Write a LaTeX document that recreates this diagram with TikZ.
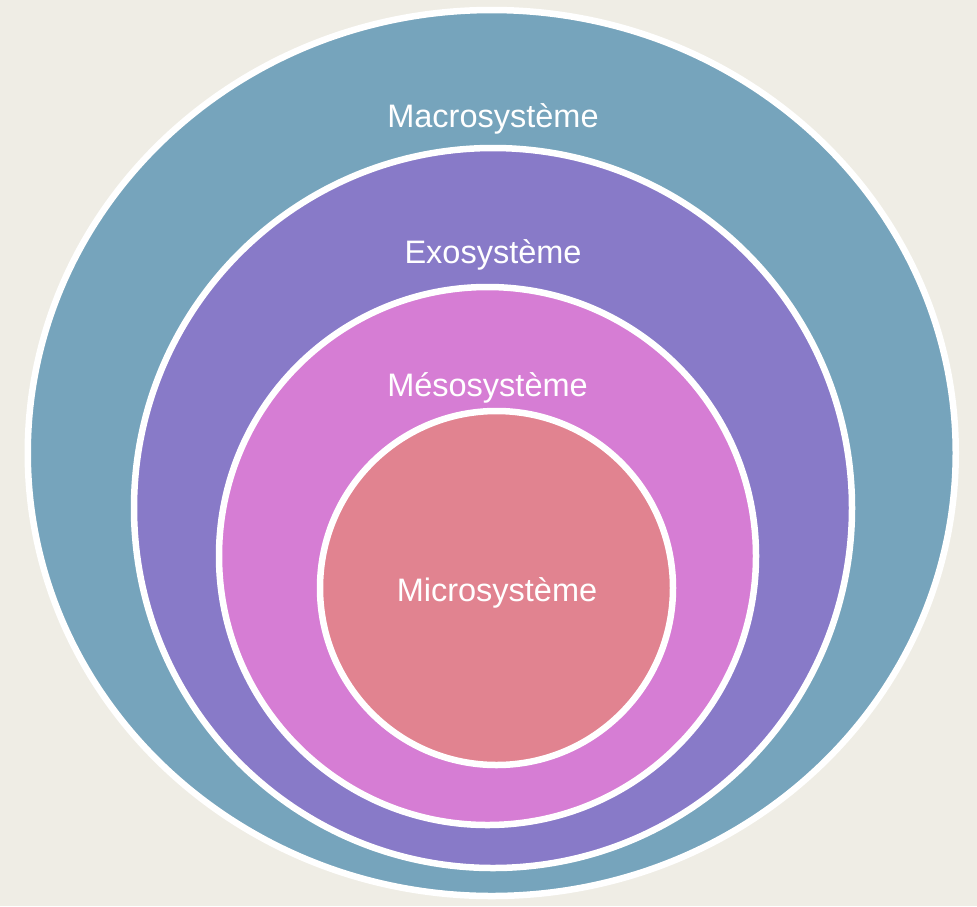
\documentclass[tikz,border=0pt]{standalone}
\usepackage{fontspec}
\setmainfont{Liberation Sans}
\definecolor{bgbeige}{HTML}{EFEDE5}
\definecolor{macrocol}{HTML}{76A4BC}
\definecolor{exocol}{HTML}{887AC8}
\definecolor{mesocol}{HTML}{D67DD4}
\definecolor{microcol}{HTML}{E18390}
\begin{document}
\begin{tikzpicture}[x=1pt,y=-1pt,ring/.style={draw=white,line width=6.5pt},
    label/.style={text=white,anchor=base,font=\fontsize{32.5}{38}\selectfont,inner sep=0pt}]
            \useasboundingbox (0,0) rectangle (977,906);
            \fill[bgbeige] (0,0) rectangle (977,906);
            \coordinate (Mac) at (491.75, 453);\coordinate (Exo) at (493, 508);\coordinate (Mes) at (487.5, 556);\coordinate (Mic) at (496.5, 588);

            \draw[ring, fill=macrocol] (Mac) ellipse [x radius=464, y radius=443];
            \draw[ring, fill=exocol] (Exo) ellipse [x radius=359, y radius=360];
            \draw[ring, fill=mesocol] (Mes) ellipse [x radius=268.5, y radius=269];
            \draw[ring, fill=microcol] (Mic) ellipse [x radius=176.5, y radius=177];

            \foreach \name/\txt/\px/\py in {macro/Macrosystème/493/127, exo/Exosystème/493/263, meso/Mésosystème/487.5/396, micro/Microsystème/497/601} {
                \node[label] (\name) at (\px, \py) {\txt};
            }
        \end{tikzpicture}
\end{document}
